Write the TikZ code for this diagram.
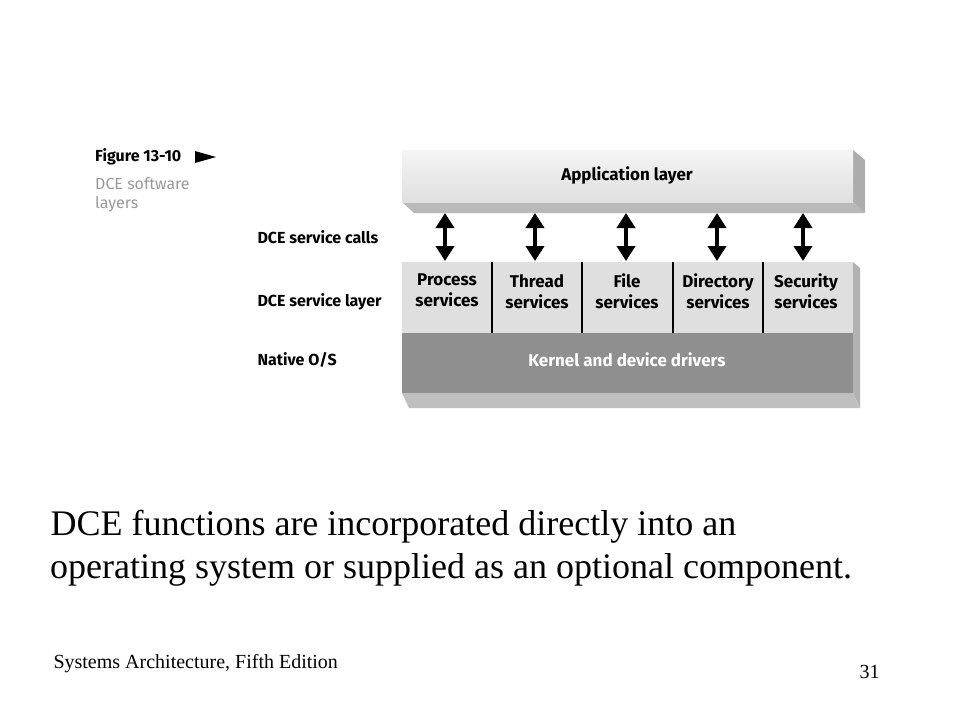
\documentclass[tikz,border=0pt]{standalone}
\usepackage{fontspec}
\setmainfont{Liberation Serif}
\newfontfamily\lab{Fira Sans}
\usetikzlibrary{arrows.meta}
\begin{document}
\begin{tikzpicture}[x=1pt,y=-1pt,
  lbl/.style={font=\lab\bfseries\fontsize{17}{21}\selectfont,align=center},
  svc/.style={lbl,anchor=north,inner sep=0pt},
  llbl/.style={font=\lab\bfseries\fontsize{16}{18}\selectfont,anchor=west},
  dbl/.style={line width=4pt,{Triangle[length=15pt,width=18pt]}-{Triangle[length=15pt,width=18pt]}}]
\useasboundingbox (0,0) rectangle (960,720);
% application layer
\fill[gray!55] (402,202) -- (853,202) -- (865,213) -- (414,213) -- cycle;
\fill[gray!65] (853,150) -- (865,160) -- (865,213) -- (853,202) -- cycle;
\shade[top color=gray!8,bottom color=gray!25] (402,150) rectangle (853,202);
\node[lbl] (app) at (627,175) {Application layer};
% service row
\fill[gray!60] (853,262) -- (860,268) -- (860,408) -- (853,393) -- cycle;
\fill[gray!25] (402,262) rectangle (853,333);
\foreach \x in {492,582,673,763} \draw[line width=1.5pt] (\x,262) -- (\x,333);
\node[svc] (p) at (447,274) {Process\\services};
\node[svc] (t) at (537,274) {Thread\\services};
\node[svc] (f) at (627,274) {File\\services};
\node[svc] (d) at (718,274) {Directory\\services};
\node[svc] (s) at (806,274) {Security\\services};
% kernel
\fill[gray!50] (402,393) -- (853,393) -- (860,408) -- (409,408) -- cycle;
\fill[gray!88] (402,333) rectangle (853,393);
\node[lbl,text=white] (k) at (627,360) {Kernel and device drivers};
% arrows
\foreach \x in {445,535,626,717,803} \draw[dbl] (\x,213) -- (\x,261);
% left labels
\node[font=\lab\bfseries\fontsize{16}{18}\selectfont,anchor=west,inner sep=0pt] (fig) at (95,157) {Figure 13-10};
\fill (195,151) -- (216,157) -- (195,163) -- cycle;
\node[font=\lab\fontsize{16}{19}\selectfont,text=gray!80,anchor=north west,align=left,inner sep=0pt] (cap) at (95,177) {DCE software\\layers};
\node[llbl] (l1) at (254,237) {DCE service calls};
\node[llbl] (l2) at (254,302) {DCE service layer};
\node[llbl] (l3) at (254,360) {Native O/S};
% text
\node[anchor=west,font=\fontsize{36}{42}\selectfont] (b1) at (47,527) {DCE functions are incorporated directly into an};
\node[anchor=west,font=\fontsize{36}{42}\selectfont,text width=813pt,inner xsep=3pt,align=justify] (b2) at (47,570) {operating system or supplied as an optional component.\hspace*{0pt plus 0pt}};
\node[anchor=west,font=\fontsize{20}{24}\selectfont] (ft) at (50,664) {Systems Architecture, Fifth Edition};
\node[anchor=west,font=\fontsize{20}{24}\selectfont] (pg) at (856,672) {31};
\end{tikzpicture}
\end{document}
